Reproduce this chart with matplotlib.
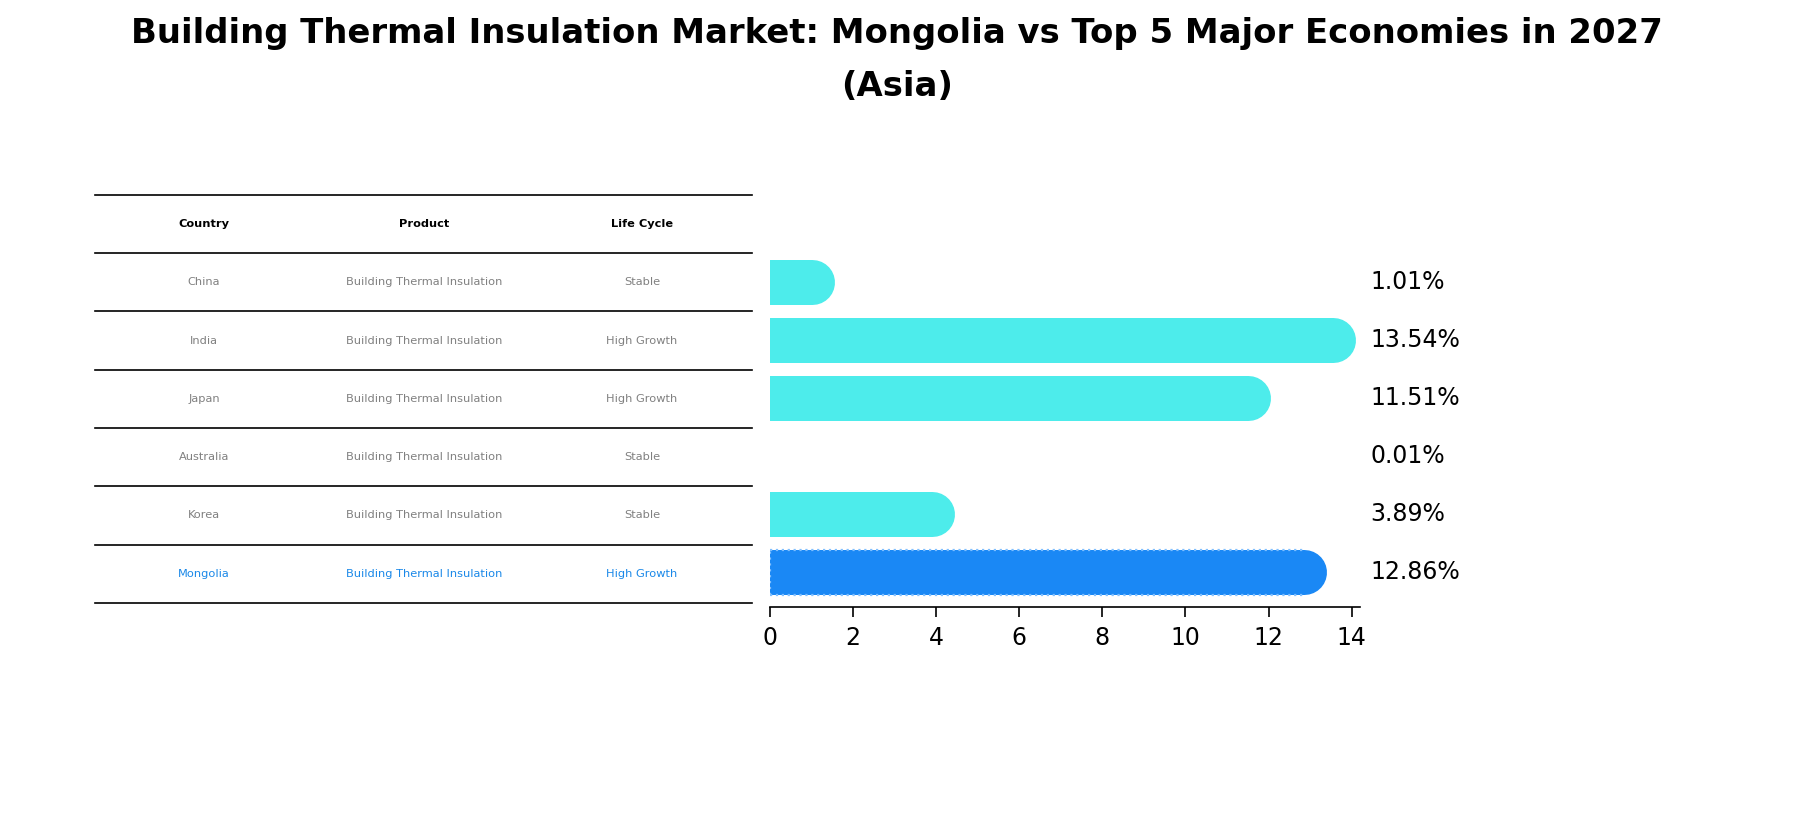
import matplotlib.pyplot as plt
from matplotlib.patches import Rectangle

countries = ['China', 'India', 'Japan', 'Australia', 'Korea', 'Mongolia']
product = 'Building Thermal Insulation'
life_cycle = ['Stable', 'High Growth', 'High Growth', 'Stable', 'Stable', 'High Growth']
growth = [1.01, 13.54, 11.51, 0.01, 3.89, 12.86]

W, H, DPI = 1794, 823, 200
fig = plt.figure(figsize=(W / DPI, H / DPI), dpi=DPI)
fig.text(0.5, 1 - 33 / H, 'Building Thermal Insulation Market: Mongolia vs Top 5 Major Economies in 2027',
         ha='center', va='center', fontsize=12.2, fontweight='bold')
fig.text(0.5, 1 - 87 / H, '(Asia)', ha='center', va='center', fontsize=12.2, fontweight='bold')

# table drawn on a full-figure axes in pixel coords
tab = fig.add_axes([0, 0, 1, 1])
tab.set_xlim(0, W)
tab.set_ylim(H, 0)
tab.axis('off')
ys = [195, 253, 311, 370, 428, 486, 545, 603]
for y in ys:
    tab.plot([95, 752], [y, y], color='black', lw=0.6)
cols = [204, 424, 642]
for x, h in zip(cols, ['Country', 'Product', 'Life Cycle']):
    tab.text(x, (ys[0] + ys[1]) / 2, h, ha='center', va='center', fontsize=4.1, fontweight='bold')
for i, c in enumerate(countries):
    yc = (ys[i + 1] + ys[i + 2]) / 2
    col = '#1a88e8' if c == 'Mongolia' else 'grey'
    for x, t in zip(cols, [c, product, life_cycle[i]]):
        tab.text(x, yc, t, ha='center', va='center', fontsize=4.1, color=col)

ax = fig.add_axes([770 / W, 1 - 607 / H, (1360 - 770) / W, (607 - 253) / H])
pos = list(range(len(countries)))[::-1]
lw_pt = 45 / DPI * 72
for p, v, c in zip(pos, growth, countries):
    color = '#1a88f5' if c == 'Mongolia' else '#4deceb'
    if v > 0.05:
        ax.plot([0, v], [p, p], color=color, lw=lw_pt, solid_capstyle='round', zorder=2)
    if c == 'Mongolia':
        ax.plot([0, v], [p + 0.39, p + 0.39], ls=':', lw=0.8, color='#7fbfff', zorder=3)
        ax.plot([0, v], [p - 0.39, p - 0.39], ls=':', lw=0.8, color='#7fbfff', zorder=3)
        ax.plot([0, 0], [p - 0.39, p + 0.39], ls=':', lw=0.8, color='#7fbfff', zorder=3)
    ax.text(14.45, p, f'{v:.2f}%', va='center', ha='left', fontsize=8.5, clip_on=False)
ax.set_xlim(0, 14.2)
ax.set_ylim(-0.6, 5.5)
ax.set_xticks(range(0, 15, 2))
ax.tick_params(axis='x', labelsize=8.5, width=0.6)
ax.set_yticks([])
for s in ['left', 'right', 'top']:
    ax.spines[s].set_visible(False)
ax.spines['bottom'].set_linewidth(0.6)

fig.savefig('out.png', dpi=DPI)
